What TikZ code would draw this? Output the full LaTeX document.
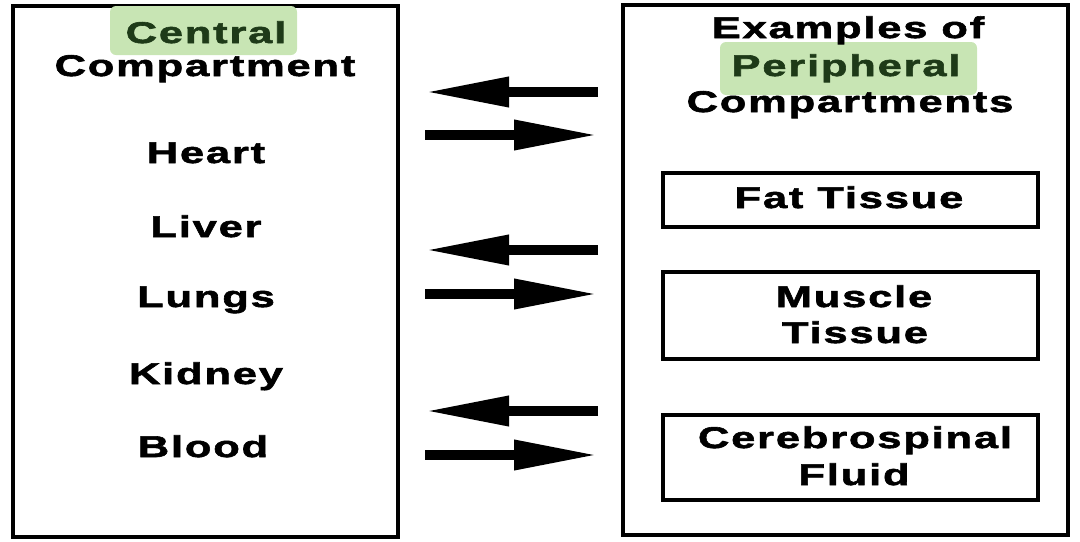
\documentclass[tikz,border=0pt]{standalone}
\usepackage{fontspec}
\setmainfont{Liberation Sans}[FakeStretch=1.45,LetterSpace=6,FakeBold=2]
\usetikzlibrary{arrows.meta}
\definecolor{hlgreen}{RGB}{200,229,180}
\definecolor{txtgreen}{RGB}{30,58,24}

\begin{document}
\begin{tikzpicture}[x=0.5pt,y=-0.5pt]

\tikzstyle{bigbox} = [draw, line width=2pt, inner sep=0pt]
\tikzstyle{smallbox} = [draw, line width=1.7pt, inner sep=0pt, minimum width=187.5pt]
\tikzstyle{label} = [inner sep=0pt, anchor=base, font=\fontsize{15}{18}\selectfont\bfseries]
\tikzstyle{highlight} = [fill=hlgreen, rounded corners=3pt]
\tikzstyle{bigarrow} = [line width=5pt, -{Triangle[length=42pt,width=14pt]}]

\useasboundingbox (0,0) rectangle (1080,541);

% compartments
\node [bigbox, minimum width=192.5pt, minimum height=265.5pt] (central) at (205.5,271.5) {};
\node [bigbox, minimum width=222.5pt, minimum height=265pt] (periph) at (845.5,270) {};

% highlighter marks
\fill [highlight] (110,6) rectangle (297,55);
\fill [highlight] (720,42) rectangle (977,95);

% central compartment
\node [label, text=txtgreen] (tcentral) at (206,43) {Central};
\node [label] (tcomp) at (205,76) {Compartment};
\node [label] (heart) at (206,163) {Heart};
\node [label] (liver) at (206,237) {Liver};
\node [label] (lungs) at (206,307) {Lungs};
\node [label] (kidney) at (206,384) {Kidney};
\node [label] (blood) at (203,457) {Blood};

% peripheral compartments
\node [label] (texamples) at (848,38) {Examples of};
\node [label, text=txtgreen] (tperiph) at (846,76) {Peripheral};
\node [label] (tcomps) at (850,112) {Compartments};
\node [smallbox, minimum height=27pt] (fat) at (850.5,200) {};
\node [smallbox, minimum height=43.5pt] (muscle) at (850.5,315.5) {};
\node [smallbox, minimum height=42.5pt] (csf) at (850.5,457.5) {};
\node [label] (tfat) at (849,208) {Fat Tissue};
\node [label] (tmuscle) at (854,307) {Muscle};
\node [label] (tmtissue) at (855,343) {Tissue};
\node [label] (tcsf) at (855,448) {Cerebrospinal};
\node [label] (tfluid) at (854,485) {Fluid};

% exchange arrows
\foreach \n/\ya/\yb in {1/92/135, 2/250/294, 3/411/455} {
  \coordinate (in\n s) at (598,\ya);
  \coordinate (in\n e) at (425,\ya);
  \coordinate (out\n s) at (425,\yb);
  \coordinate (out\n e) at (598,\yb);
  \draw [bigarrow] (in\n s) -- (in\n e);
  \draw [bigarrow] (out\n s) -- (out\n e);
}

\end{tikzpicture}
\end{document}
